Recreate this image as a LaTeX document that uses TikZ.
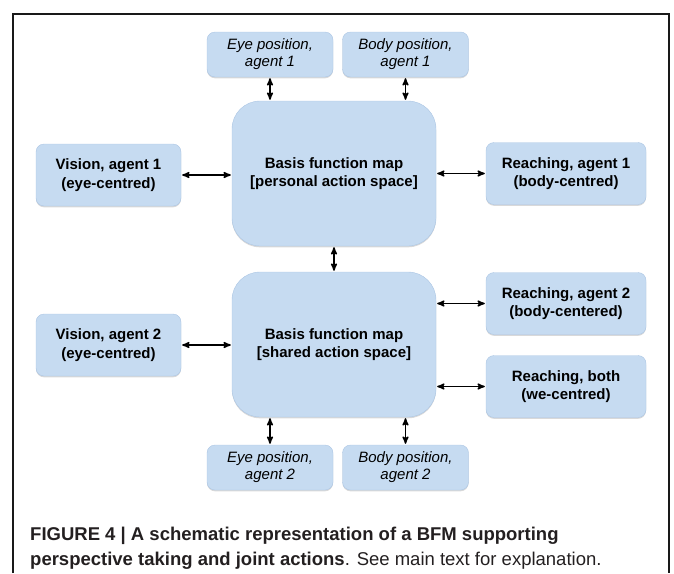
\documentclass[tikz,border=0pt]{standalone}
\usepackage{fontspec}
\setmainfont{Liberation Sans}
\usetikzlibrary{shapes,arrows,shadows}

\definecolor{boxblue}{RGB}{198,219,241}
\definecolor{boxedge}{RGB}{172,198,228}
\definecolor{captext}{RGB}{35,31,32}

\begin{document}
\begin{tikzpicture}[x=1pt,y=-1pt,
  box/.style={draw=boxedge,fill=boxblue,rounded corners=8pt,inner sep=0pt,align=center,
    drop shadow={shadow xshift=0pt,shadow yshift=-1.3pt,opacity=.3,fill=black!50}},
  sidebox/.style={box,minimum width=145pt,minimum height=62pt,font=\fontsize{15}{18.5}\selectfont\bfseries},
  reachbox/.style={sidebox,minimum width=160pt},
  posbox/.style={box,minimum width=126pt,minimum height=45pt,font=\fontsize{15}{17}\selectfont\itshape},
  bfm/.style={box,rounded corners=28pt,minimum width=204pt,minimum height=145pt,font=\fontsize{15}{18.5}\selectfont\bfseries},
  link/.style={<->,>=stealth',line width=1.5pt,shorten <=1pt,shorten >=1pt}]
\useasboundingbox (0,0) rectangle (674,573);
\draw[line width=2.2pt,black!90] (13,573) -- (13,14) -- (669,14) -- (669,573);

% top map
\node[bfm] (bfm1) at (334,173.5) {Basis function map\\{[}personal action space{]}};
\node[posbox] (eye1) at (270,54.5) {Eye position,\\agent 1};
\node[posbox] (body1) at (405.5,54.5) {Body position,\\agent 1};
\node[sidebox] (vision1) at (108.5,175) {Vision, agent 1\\(eye-centred)};
\node[reachbox] (reach1) at (566,173.5) {Reaching, agent 1\\(body-centred)};

% shared map
\node[bfm] (bfm2) at (334,344.5) {Basis function map\\{[}shared action space{]}};
\node[sidebox] (vision2) at (108.5,345) {Vision, agent 2\\(eye-centred)};
\node[reachbox] (reach2) at (566,303.5) {Reaching, agent 2\\(body-centered)};
\node[reachbox] (reachb) at (566,386.5) {Reaching, both\\(we-centred)};
\node[posbox] (eye2) at (270,467.5) {Eye position,\\agent 2};
\node[posbox] (body2) at (405.5,467.5) {Body position,\\agent 2};

\draw[link] (eye1.south) -- (eye1.south |- bfm1.north);
\draw[link] (body1.south) -- (body1.south |- bfm1.north);
\draw[link] (vision1.east) -- (vision1.east -| bfm1.west);
\draw[link] (bfm1.east |- reach1.west) -- (reach1.west);
\draw[link] (bfm1.south) -- (bfm2.north);
\draw[link] (vision2.east) -- (vision2.east -| bfm2.west);
\draw[link] (bfm2.east |- reach2.west) -- (reach2.west);
\draw[link] (bfm2.east |- reachb.west) -- (reachb.west);
\draw[link] (eye2.north) -- (eye2.north |- bfm2.south);
\draw[link] (body2.north) -- (body2.north |- bfm2.south);

\node[anchor=base west,align=left,inner sep=0pt,text=captext,font=\fontsize{18.5}{25}\selectfont] (caption) at (30,565)
  {\textbf{FIGURE 4 | A schematic representation of a BFM supporting}\\
   \textbf{perspective taking and joint actions}. See main text for explanation.};
\end{tikzpicture}
\end{document}
